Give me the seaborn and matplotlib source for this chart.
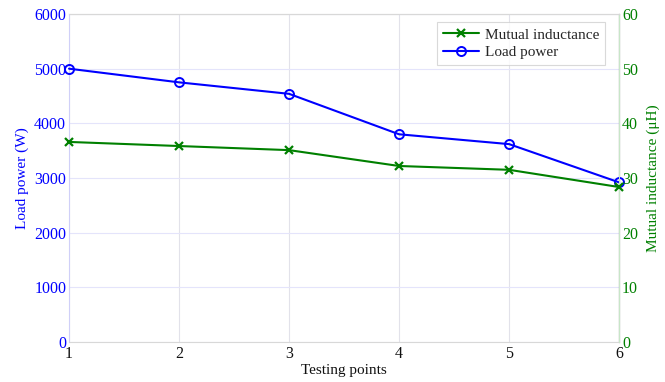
import matplotlib
matplotlib.use("Agg")
import matplotlib.pyplot as plt
import seaborn as sns
import pandas as pd

points = [1, 2, 3, 4, 5, 6]
load_power = [5000, 4750, 4540, 3800, 3620, 2920]
mutual_inductance = [36.6, 35.85, 35.1, 32.2, 31.5, 28.35]
left_ticks = [0, 1000, 2000, 3000, 4000, 5000, 6000]
right_ticks = [0, 10, 20, 30, 40, 50, 60]

sns.set_style("white")
plt.rcParams['font.family'] = ['Liberation Serif', 'DejaVu Serif']
plt.rcParams['mathtext.fontset'] = 'stix'

df = pd.DataFrame({"point": points, "power": load_power, "mi": mutual_inductance})

fig = plt.figure(figsize=(6.65, 3.82), dpi=100)
ax = fig.add_axes([0.1038, 0.1047, 0.8272, 0.8586])
ax2 = ax.twinx()

sns.lineplot(data=df, x="point", y="power", ax=ax, color="#0000ff", marker="o",
             markersize=6.5, markerfacecolor="none", markeredgecolor="#0000ff",
             markeredgewidth=1.4, linewidth=1.5, linestyle="-",
             label="Load power", legend=False)
sns.lineplot(data=df, x="point", y="mi", ax=ax2, color="#008000", marker="x",
             markersize=6, markeredgewidth=1.6, markeredgecolor="#008000",
             linewidth=1.5, linestyle="-",
             label="Mutual inductance", legend=False)
for a in (ax, ax2):
    for ln in a.lines:
        ln.set_clip_on(False)
        ln.set_zorder(5)

ax.set_xlim(1, 6)
ax.set_ylim(0, 6000)
ax2.set_ylim(0, 60)
ax.set_xticks(points)
ax.set_yticks(left_ticks)
ax2.set_yticks(right_ticks)

ax.grid(axis="y", color="#e4e4fb", linewidth=0.8)
ax.grid(axis="x", color="#e2e2ea", linewidth=0.8)
ax.set_axisbelow(True)

ax.tick_params(axis="y", colors="#0000ff", labelsize=11.5, length=0, pad=2)
ax.tick_params(axis="x", colors="#111111", labelsize=11.5, length=0, pad=3)
ax2.tick_params(axis="y", colors="#008000", labelsize=11.5, length=0, pad=2)

ax.set_xlabel("Testing points", fontsize=11, color="#111111", labelpad=1)
ax.set_ylabel("Load power (W)", fontsize=11, color="#0000ff", labelpad=4)
ax2.set_ylabel("Mutual inductance (μH)", fontsize=11, color="#008000", labelpad=6)

for a in (ax, ax2):
    for s in a.spines.values():
        s.set_linewidth(0.8)
ax.spines["left"].set_color("#d0d0f8")
ax.spines["bottom"].set_color("#d8d8d8")
ax.spines["top"].set_color("#d8d8d8")
ax2.spines["right"].set_color("#c8e6c8")
ax2.spines["left"].set_visible(False)
ax2.spines["top"].set_color("#d8d8d8")
ax2.spines["bottom"].set_visible(False)

h1, l1 = ax.get_legend_handles_labels()
h2, l2 = ax2.get_legend_handles_labels()
leg = ax2.legend(h2 + h1, l2 + l1, loc="upper right", bbox_to_anchor=(0.983, 0.99),
                 fontsize=11, frameon=True, fancybox=False, edgecolor="#d0d0d0",
                 handlelength=2.3, borderpad=0.4, labelspacing=0.25, handletextpad=0.4,
                 borderaxespad=0.3)
leg.get_frame().set_linewidth(0.8)
leg.set_zorder(10)

fig.savefig("out.png", dpi=100)
